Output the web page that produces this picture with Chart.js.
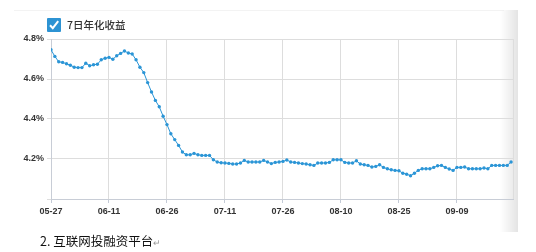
<!DOCTYPE html>
<html>
<head>
<meta charset="utf-8">
<script src="https://cdn.jsdelivr.net/npm/chart.js@4.4.1/dist/chart.umd.min.js"></script>
<style>
  html, body { margin:0; padding:0; background:#fff; }
  body { width:536px; height:252px; position:relative; overflow:hidden; font-family:"Liberation Sans", Arial, sans-serif; }
  #wrap { position:absolute; left:0; top:0; width:536px; height:252px; }
  #topline { position:absolute; left:14px; top:10px; width:490px; height:1px; background:#f3f3f3; }
  #shade { position:absolute; left:500px; top:10px; width:18px; height:222px; background:linear-gradient(to right, rgba(255,255,255,0), #e4e4e4); }
  #legend { position:absolute; left:47px; top:17px; height:15px; display:flex; align-items:center; }
  #box { width:14px; height:14px; background:#2d93d3; border-radius:1px; position:relative; }
  #box svg { position:absolute; left:1px; top:1px; }
  #legtext { margin-left:6px; font-family:"Noto Sans CJK SC", sans-serif; font-size:10.5px; color:#333; font-weight:500; line-height:15px; }
  #caption { position:absolute; left:40px; top:233px; font-family:"Noto Sans CJK SC", sans-serif; font-size:12.5px; color:#111; line-height:16px; white-space:nowrap; }
  #caption .ret { color:#999; font-size:9px; }
</style>
</head>
<body>
<div id="topline"></div>
<div id="shade"></div>
<div id="wrap"><canvas id="c" width="536" height="252"></canvas></div>
<div id="legend"><div id="box"><svg width="12" height="12" viewBox="0 0 12 12"><path d="M2 6.2 L4.8 9.2 L10.2 2.2" stroke="#fff" stroke-width="2" fill="none"/></svg></div><span id="legtext">7日年化收益</span></div>
<div id="caption">2. 互联网投融资平台<span class="ret">↵</span></div>
<script>
// Series label
const seriesName = '7日年化收益';
// X tick labels (one every 15 days, starting at day 0)
const tickLabels = ['05-27','06-11','06-26','07-11','07-26','08-10','08-25','09-09'];
const tickStep = 15;
// Daily 7-day annualized yield (%) from 05-27 onward
const yields = [
  4.746, 4.713, 4.686, 4.683, 4.676, 4.669, 4.659, 4.657, 4.657, 4.679,
  4.666, 4.671, 4.674, 4.696, 4.704, 4.708, 4.699, 4.716, 4.728, 4.740,
  4.730, 4.725, 4.696, 4.659, 4.632, 4.582, 4.535, 4.493, 4.461, 4.414,
  4.372, 4.326, 4.297, 4.268, 4.235, 4.221, 4.221, 4.228, 4.221, 4.218,
  4.218, 4.218, 4.196, 4.185, 4.181, 4.180, 4.178, 4.175, 4.175, 4.180,
  4.193, 4.185, 4.185, 4.185, 4.185, 4.193, 4.185, 4.177, 4.183, 4.185,
  4.188, 4.195, 4.185, 4.183, 4.180, 4.177, 4.175, 4.171, 4.168, 4.180,
  4.180, 4.180, 4.183, 4.196, 4.196, 4.196, 4.183, 4.180, 4.180, 4.191,
  4.175, 4.171, 4.168, 4.160, 4.163, 4.171, 4.158, 4.151, 4.146, 4.143,
  4.141, 4.129, 4.124, 4.116, 4.129, 4.143, 4.151, 4.151, 4.151, 4.158,
  4.166, 4.168, 4.158, 4.150, 4.143, 4.158, 4.158, 4.160, 4.151, 4.151,
  4.151, 4.151, 4.155, 4.151, 4.168, 4.168, 4.168, 4.168, 4.168, 4.185
];
// Y axis range
const yMin = 4.0, yMax = 4.8, yStep = 0.2;

const points = yields.map((v, i) => ({ x: i, y: v }));

const frame = {
  id: 'frame',
  afterDraw(chart) {
    const { ctx, chartArea: a } = chart;
    ctx.save();
    ctx.strokeStyle = '#dddddd';
    ctx.lineWidth = 1;
    ctx.beginPath();
    ctx.moveTo(Math.round(a.right) + 0.5, a.top);
    ctx.lineTo(Math.round(a.right) + 0.5, a.bottom);
    ctx.stroke();
    ctx.restore();
  }
};

new Chart(document.getElementById('c'), {
  type: 'line',
  data: {
    datasets: [{
      label: seriesName,
      data: points,
      borderColor: '#2b95d6',
      backgroundColor: '#2b95d6',
      borderWidth: 1,
      pointRadius: 1.7,
      pointBorderWidth: 0,
      pointBackgroundColor: '#2b95d6',
      tension: 0,
      fill: false
    }]
  },
  plugins: [frame],
  options: {
    responsive: false,
    animation: false,
    devicePixelRatio: 1,
    layout: { padding: { top: 39, right: 23, bottom: 0, left: 0 } },
    plugins: { legend: { display: false }, tooltip: { enabled: false } },
    scales: {
      x: {
        type: 'linear',
        min: 0,
        max: 119.5,
        afterBuildTicks(scale) { scale.ticks = tickLabels.map((_, i) => ({ value: i * tickStep })); },
        afterFit(scale) { scale.height = 53; },
        grid: { color: '#dddddd', tickColor: '#c3cad6', tickLength: 4, lineWidth: 1 },
        border: { color: '#c8cdd6' },
        ticks: {
          autoSkip: false,
          maxRotation: 0,
          padding: 3,
          color: '#333',
          font: { family: 'Liberation Sans, Arial', size: 9, weight: 'bold' },
          callback: (v) => tickLabels[Math.round(v / tickStep)] ?? ''
        }
      },
      y: {
        min: yMin,
        max: yMax,
        afterFit(scale) { scale.width = 51; },
        grid: { color: '#dddddd', tickColor: '#dddddd', tickLength: 4 },
        border: { color: '#c8cdd6' },
        ticks: {
          stepSize: yStep,
          padding: 3,
          color: '#333',
          font: { family: 'Liberation Sans, Arial', size: 9, weight: 'bold' },
          callback: (v) => Math.abs(v - yMin) < 1e-6 ? '' : v.toFixed(1) + '%'
        }
      }
    }
  }
});
</script>
</body>
</html>
